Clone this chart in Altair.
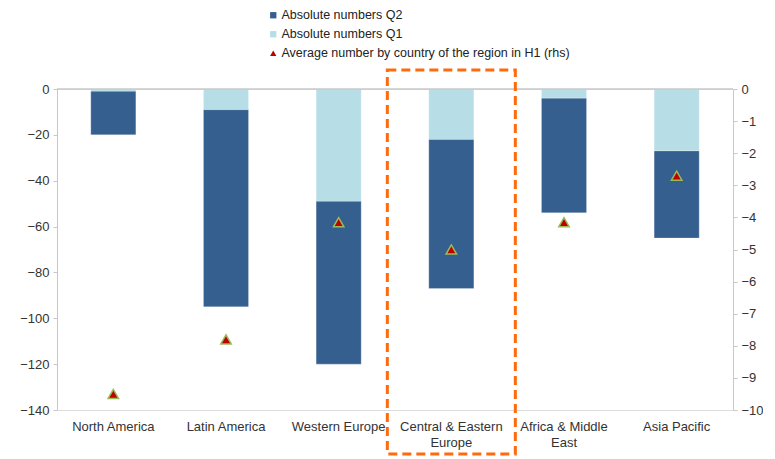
import altair as alt
import pandas as pd

categories = ["North America", "Latin America", "Western Europe",
              "Central & Eastern Europe", "Africa & Middle East", "Asia Pacific"]
q1 = [-1, -9, -49, -22, -4, -27]          # Absolute numbers Q1
q2_total = [-20, -95, -120, -87, -54, -65]  # bottom of Q2 stack
avg_h1 = [-9.5, -7.8, -4.15, -5.0, -4.15, -2.7]  # rhs

S_Q2 = "Absolute numbers Q2"
S_Q1 = "Absolute numbers Q1"
S_AV = "Average number by country of the region in H1 (rhs)"

rows = []
for c, a, t in zip(categories, q1, q2_total):
    rows.append({"cat": c, "series": S_Q1, "value": a, "ord": 0})
    rows.append({"cat": c, "series": S_Q2, "value": t - a, "ord": 1})
bars_df = pd.DataFrame(rows)
pts_df = pd.DataFrame({"cat": categories, "avg": avg_h1, "series": S_AV})
hl_df = pd.DataFrame({"cat": ["Central & Eastern Europe"]})

domain = [S_Q2, S_Q1, S_AV]
color_scale = alt.Scale(domain=domain, range=["#355f8e", "#b7dde6", "#c00000"])
shape_scale = alt.Scale(domain=domain, range=["square", "square", "triangle-up"])

font = "Liberation Sans"

label_expr = ("datum.label == 'Central & Eastern Europe' ? ['Central & Eastern', 'Europe'] : "
              "datum.label == 'Africa & Middle East' ? ['Africa & Middle', 'East'] : datum.label")

xenc = alt.X("cat:N", sort=categories, title=None,
             scale=alt.Scale(paddingInner=0.6, paddingOuter=0.3),
             axis=alt.Axis(labelExpr=label_expr, labelAngle=0, domain=False, ticks=False,
                           labelPadding=10, labelFont=font, labelFontSize=13,
                           labelColor="#333333", labelLineHeight=16))

yscale_l = alt.Scale(domain=[-140, 0], nice=False)
yaxis_l = alt.Axis(values=list(range(-140, 1, 20)), grid=False, domainColor="#c8c8c8",
                   tickColor="#c8c8c8", tickSize=4, labelFont=font, labelFontSize=13,
                   labelColor="#333333", labelPadding=4)

bars = alt.Chart(bars_df).mark_bar(stroke="#ffffff", strokeWidth=0.5, strokeOpacity=0.5).encode(
    x=xenc,
    y=alt.Y("value:Q", stack="zero", title=None, scale=yscale_l, axis=yaxis_l),
    color=alt.Color("series:N", scale=color_scale, title=None,
                    legend=alt.Legend(orient="none", legendX=210, legendY=-80,
                                      labelFont=font, labelFontSize=12.5, labelColor="#222222",
                                      symbolSize=40, rowPadding=6, labelOffset=2,
                                      labelLimit=0, symbolStrokeWidth=0)),
    shape=alt.Shape("series:N", scale=shape_scale, legend=None),
    order=alt.Order("ord:Q"),
)

zero = alt.Chart(pd.DataFrame({"v": [0]})).mark_rule(color="#c8c8c8", strokeWidth=1.5).encode(
    y=alt.Y("v:Q", title=None, scale=yscale_l, axis=yaxis_l)
)

pts = alt.Chart(pts_df).mark_point(filled=True, size=110, stroke="#9bbb59", strokeWidth=1.5,
                                   opacity=1).encode(
    x=alt.X("cat:N", sort=categories),
    y=alt.Y("avg:Q", title=None, scale=alt.Scale(domain=[-10, 0], nice=False),
            axis=alt.Axis(orient="right", values=list(range(-10, 1)), grid=False,
                          domainColor="#c8c8c8", tickColor="#c8c8c8", tickSize=4,
                          labelFont=font, labelFontSize=13, labelColor="#333333",
                          labelPadding=4)),
    color=alt.Color("series:N", scale=color_scale, legend=None),
    shape=alt.Shape("series:N", scale=shape_scale, legend=None),
)

hl = alt.Chart(hl_df).mark_rect(filled=False, fill=None, stroke="#ff6a0d", strokeWidth=3,
                                strokeDash=[9, 5], width=128).encode(
    x=alt.X("cat:N", sort=categories),
    y=alt.value(-19),
    y2=alt.value(365),
)

left = alt.layer(bars, zero)
chart = alt.layer(left, pts, hl).resolve_scale(y="independent").properties(
    width=676, height=321,
    autosize=alt.AutoSizeParams(type="none"),
    padding={"left": 49, "top": 81, "right": 30, "bottom": 50},
).configure_view(stroke=None).configure(background="white")

chart.save("out.html", embed_options={"renderer": "svg", "actions": False})
